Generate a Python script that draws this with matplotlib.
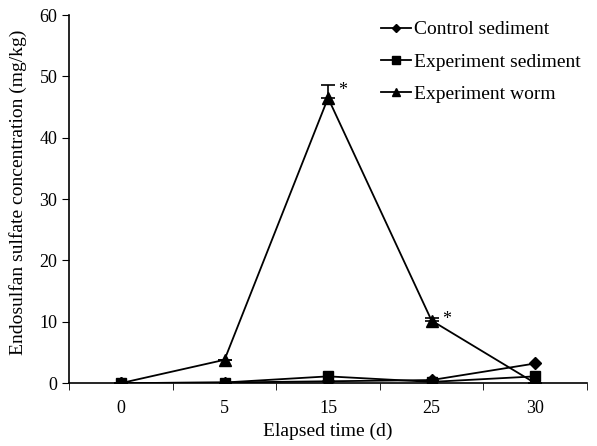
import matplotlib
matplotlib.use("Agg")
import matplotlib.pyplot as plt
import numpy as np

plt.rcParams['font.family'] = ['Liberation Serif', 'DejaVu Serif']

days = ["0", "5", "15", "25", "30"]
control_sediment = [0.0, 0.1, 0.3, 0.5, 3.2]
experiment_sediment = [0.0, 0.1, 1.1, 0.2, 1.1]
experiment_worm = [0.0, 3.8, 46.5, 10.2, 0.0]
worm_err = [0.0, 0.0, 2.1, 0.4, 0.0]
significant = [False, False, True, True, False]

fig = plt.figure(figsize=(5.97, 4.46), dpi=100)
ax = fig.add_axes([0.116, 0.141, 0.867, 0.825])

x = np.arange(len(days))
ax.plot(x, control_sediment, color='black', marker='D', markersize=6, lw=1.3,
        label='Control sediment', zorder=3)
ax.plot(x, experiment_sediment, color='black', marker='s', markersize=7, lw=1.3,
        label='Experiment sediment', zorder=3)
ax.plot(x, experiment_worm, color='black', marker='^', markersize=8, lw=1.3,
        label='Experiment worm', zorder=3)
ax.errorbar(x, experiment_worm, yerr=[np.zeros(len(x)), worm_err], fmt='none',
            ecolor='black', capsize=5, capthick=1.2, elinewidth=1.2, zorder=2)

for xi, yi, e, s in zip(x, experiment_worm, worm_err, significant):
    if s:
        ax.text(xi + 0.1, yi + e * 0.6, '*', fontsize=13, ha='left', va='center')

ax.set_xlim(-0.5, len(days) - 0.5)
ax.set_ylim(0, 60)
ax.set_yticks(np.arange(0, 61, 10))
ax.set_xticks(x)
ax.set_xticklabels(days)
ax.set_xticks(np.arange(-0.5, len(days), 1), minor=True)
ax.tick_params(axis='x', which='major', length=0, pad=12, labelsize=13)
ax.tick_params(axis='x', which='minor', length=5, direction='out')
ax.tick_params(axis='y', length=5, direction='out', labelsize=13)
ax.spines['top'].set_visible(False)
ax.spines['right'].set_visible(False)
for sp in ['left', 'bottom']:
    ax.spines[sp].set_linewidth(1.2)

ax.set_xlabel('Elapsed time (d)', fontsize=14)
ax.xaxis.set_label_coords(0.5, -0.108)
ax.set_ylabel('Endosulfan sulfate concentration (mg/kg)', fontsize=14)
ax.yaxis.set_label_coords(-0.081, 0.518)

ax.legend(loc='upper left', bbox_to_anchor=(0.622, 0.975),
          bbox_transform=fig.transFigure, borderpad=0, frameon=False,
          fontsize=14, handlelength=1.55, handletextpad=0.12,
          labelspacing=0.75, markerscale=0.75)

fig.savefig('out.png', dpi=100)
